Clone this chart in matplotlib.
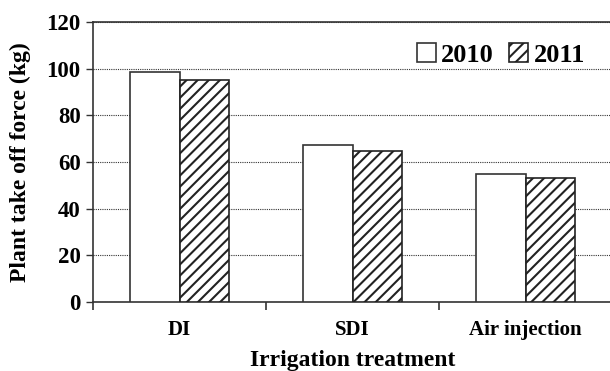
import numpy as np
import matplotlib
matplotlib.use("Agg")
import matplotlib.pyplot as plt

# donnees
treatments = ["DI", "SDI", "Air injection"]
years = ["2010", "2011"]
force2010 = [98.7, 67.2, 54.8]
force2011 = [95.2, 64.9, 53.0]
yticks = [0, 20, 40, 60, 80, 100, 120]

plt.rcParams['font.family'] = ['Liberation Serif', 'DejaVu Serif']
plt.rcParams['font.weight'] = 'bold'
plt.rcParams['hatch.linewidth'] = 1.5
plt.rcParams['hatch.color'] = '#222222'

fig = plt.figure(figsize=(6.10, 3.71), dpi=100)
ax = fig.add_axes([0.1525, 0.186, 0.851, 0.7547])

x = np.arange(len(treatments))
w = 0.285
ax.bar(x - w/2, force2010, w, color='white', edgecolor='#333333', linewidth=1.2,
       label=years[0], zorder=3)
ax.bar(x + w/2, force2011, w, color='white', edgecolor='#222222', linewidth=1.2,
       hatch='///', label=years[1], zorder=3)

ax.set_xlim(-0.5, len(treatments) - 0.5)
ax.set_ylim(0, 120)
ax.set_yticks(yticks)
ax.set_yticklabels([str(v) for v in yticks], fontsize=16.5, fontweight='bold')
ax.set_xticks(x)
ax.set_xticklabels(treatments, fontsize=15, fontweight='bold')
ax.tick_params(axis='x', which='major', length=0, pad=13)
ax.set_xticks(np.arange(-0.5, len(treatments)), minor=True)
ax.tick_params(axis='x', which='minor', length=6, width=1.2, direction='out', color='#333333')
ax.tick_params(axis='y', length=5, width=1, direction='out', color='#333333', pad=4)

ax.yaxis.grid(True, linestyle=(0, (1, 1)), color='#333333', linewidth=0.8, zorder=0)
ax.set_axisbelow(True)
for s in ax.spines.values():
    s.set_color('#333333')
    s.set_linewidth(1.2)

ax.set_ylabel("Plant take off force (kg)", fontsize=17, fontweight='bold', labelpad=11)
ax.set_xlabel("Irrigation treatment", fontsize=17, fontweight='bold', labelpad=7)

leg = ax.legend(loc='upper right', bbox_to_anchor=(0.948, 0.925), ncol=2, frameon=False,
                prop={'size': 19, 'weight': 'bold'}, handlelength=0.72, handleheight=0.72,
                handletextpad=0.2, columnspacing=0.6, borderpad=0, borderaxespad=0)

fig.savefig("out.png", dpi=100)
